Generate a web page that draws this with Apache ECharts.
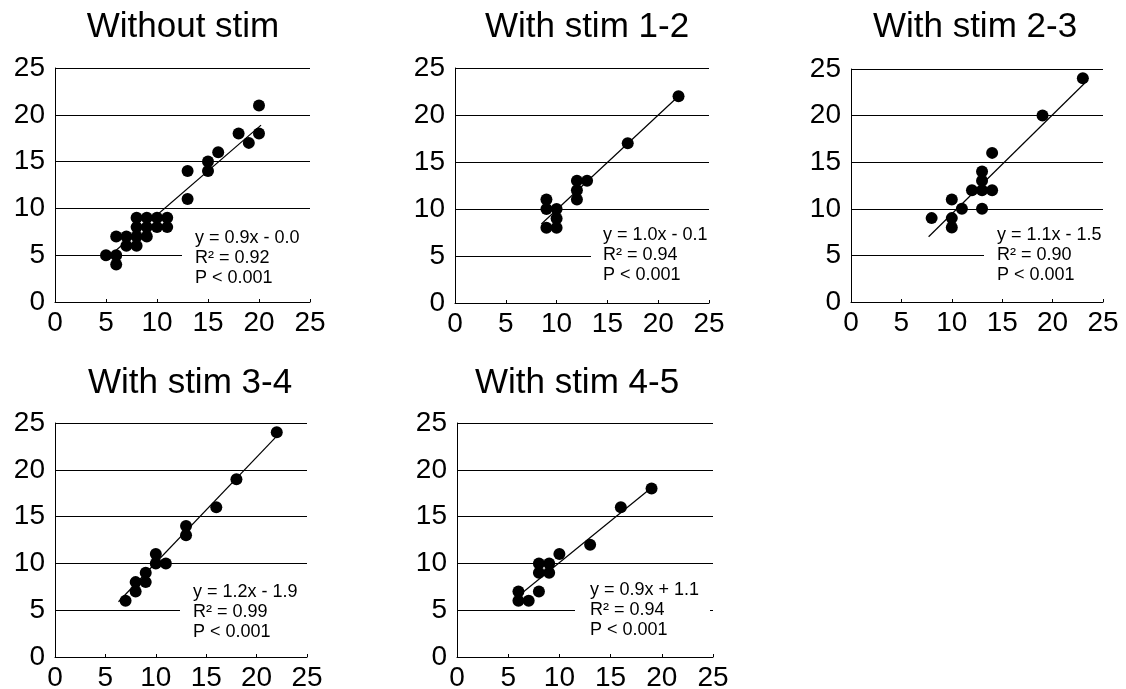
<!DOCTYPE html>
<html><head><meta charset="utf-8">
<script src="https://cdn.jsdelivr.net/npm/echarts@6/dist/echarts.min.js"></script>
<style>html,body{margin:0;padding:0;background:#fff}#c{width:1126px;height:689px}</style>
</head><body><div id="c"></div>
<script>
// ---------- data ----------
const panelTitles = ['Without stim', 'With stim 1-2', 'With stim 2-3', 'With stim 3-4', 'With stim 4-5'];
const tickValues = [0, 5, 10, 15, 20, 25];

const pointsWithout = [[5,5],[6,7],[6,5],[6,4],[7,7],[7,6],[8,9],[8,8],[8,7],[8,6],[9,9],[9,8],[9,7],[10,9],[10,8],[11,9],[11,8],[13,14],[13,11],[15,15],[15,14],[16,16],[18,18],[19,17],[20,18],[20,21]];
const points12 = [[9,11],[9,10],[9,8],[10,10],[10,9],[10,8],[12,13],[12,12],[12,11],[13,13],[17,17],[22,22]];
const points23 = [[8,9],[10,11],[10,9],[10,8],[11,10],[12,12],[13,14],[13,13],[13,12],[13,10],[14,16],[14,12],[19,20],[23,24]];
const points34 = [[7,6],[8,8],[8,7],[9,9],[9,8],[10,11],[10,10],[11,10],[13,14],[13,13],[16,16],[18,19],[22,24]];
const points45 = [[6,7],[6,6],[7,6],[8,10],[8,9],[8,7],[9,10],[9,9],[10,11],[13,12],[16,16],[19,18]];

const fitWithout = [[4.8,4.4],[20.2,18.9]];
const fit12 = [[8.5,8.4],[21.7,21.7]];
const fit23 = [[7.7,7.0],[23.2,23.5]];
const fit34 = [[6.3,5.9],[22.0,23.6]];
const fit45 = [[6.2,6.7],[18.9,18.0]];

const eqTexts = ['y = 0.9x - 0.0', 'y = 1.0x - 0.1', 'y = 1.1x - 1.5', 'y = 1.2x - 1.9', 'y = 0.9x + 1.1'];
const r2Texts = ['R\u00B2 = 0.92', 'R\u00B2 = 0.94', 'R\u00B2 = 0.90', 'R\u00B2 = 0.99', 'R\u00B2 = 0.94'];
const pTexts = ['P < 0.001', 'P < 0.001', 'P < 0.001', 'P < 0.001', 'P < 0.001'];

const panelPoints = [pointsWithout, points12, points23, points34, points45];
const panelFits = [fitWithout, fit12, fit23, fit34, fit45];

// ---------- layout ----------
const layout = [
  {left:55,  top:68,  width:255, height:234, titleX:183, titleY:27,  boxX:182, textX:195, lineY:238, boxGap:0},
  {left:455, top:68,  width:254, height:235, titleX:587, titleY:27,  boxX:591, textX:603, lineY:235, boxGap:0},
  {left:851, top:69,  width:252, height:233, titleX:975, titleY:27,  boxX:984, textX:997, lineY:235, boxGap:0},
  {left:55,  top:423, width:252, height:234, titleX:190, titleY:383, boxX:180, textX:193, lineY:592, boxGap:0},
  {left:457, top:423, width:256, height:234, titleX:577, titleY:383, boxX:575, textX:590, lineY:590, boxGap:3}
];

const FONT = '"Liberation Sans", Arial, sans-serif';
const grids = [], xAxes = [], yAxes = [], series = [], graphics = [];

layout.forEach((L, i) => {
  grids.push({left:L.left, top:L.top, width:L.width, height:L.height, containLabel:false, outerBoundsMode:'none'});
  const axisCommon = {
    gridIndex:i, type:'value', min:tickValues[0], max:tickValues[tickValues.length-1],
    interval:tickValues[1]-tickValues[0],
    axisLine:{show:true, onZero:false, lineStyle:{color:'#000', width:1}},
    axisLabel:{color:'#000', fontSize:28, fontFamily:FONT},
  };
  xAxes.push(Object.assign({}, axisCommon, {
    axisTick:{show:true, inside:true, length:3, lineStyle:{color:'#000'}},
    axisLabel:Object.assign({}, axisCommon.axisLabel, {margin:7}),
    splitLine:{show:false}
  }));
  yAxes.push(Object.assign({}, axisCommon, {
    axisTick:{show:false},
    axisLabel:Object.assign({}, axisCommon.axisLabel, {margin:10}),
    splitLine:{show:true, lineStyle:{color:'#000', width:1}}
  }));
  series.push({
    type:'scatter', xAxisIndex:i, yAxisIndex:i, data:panelPoints[i],
    symbol:'circle', symbolSize:12, itemStyle:{color:'#000', opacity:1}, z:3
  });
  series.push({
    type:'line', xAxisIndex:i, yAxisIndex:i, data:panelFits[i],
    symbol:'none', lineStyle:{color:'#000', width:1.2}, z:2
  });
  graphics.push({
    type:'text', x:L.titleX, y:L.titleY, z:10,
    style:{text:panelTitles[i], font:'35px ' + FONT, fill:'#000', align:'center', verticalAlign:'middle'}
  });
  graphics.push({
    type:'rect', z:20,
    shape:{x:L.boxX, y:L.lineY - 13, width:(L.left + L.width - L.boxGap) - L.boxX, height:66},
    style:{fill:'#fff'}
  });
  graphics.push({
    type:'text', x:L.textX, y:L.lineY - 10, z:21,
    style:{text:[eqTexts[i], r2Texts[i], pTexts[i]].join('\n'), font:'18px ' + FONT, lineHeight:20,
           fill:'#000', align:'left', verticalAlign:'top'}
  });
});

const chart = echarts.init(document.getElementById('c'), null, {renderer:'canvas'});
chart.setOption({
  backgroundColor:'#fff',
  animation:false,
  grid:grids, xAxis:xAxes, yAxis:yAxes, series:series, graphic:graphics
});
</script>
</body></html>
